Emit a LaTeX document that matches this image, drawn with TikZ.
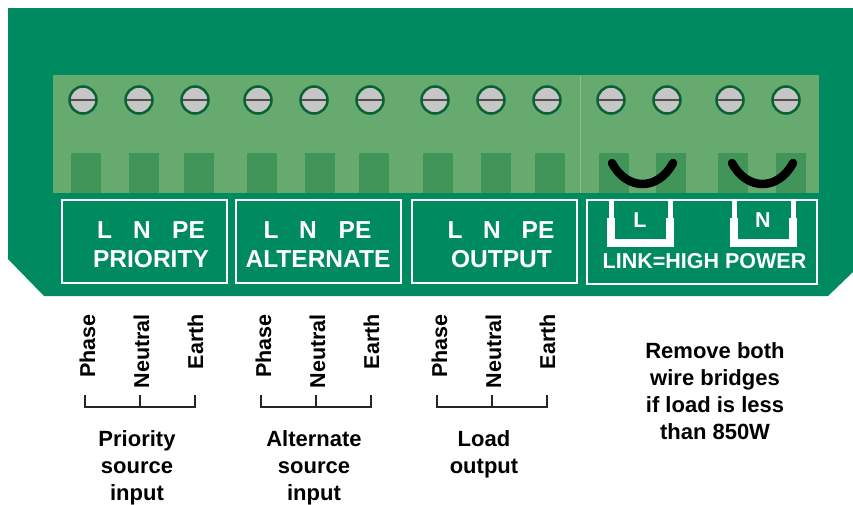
\documentclass[tikz,border=0pt]{standalone}
\usepackage{fontspec}
\setmainfont{Liberation Sans}
\usetikzlibrary{positioning,calc}
\definecolor{board}{RGB}{0,138,96}
\definecolor{strip}{RGB}{102,170,112}
\definecolor{entry}{RGB}{66,149,88}
\definecolor{screwfill}{RGB}{198,198,198}
\definecolor{screwrim}{RGB}{8,98,52}
\definecolor{slot}{RGB}{80,80,80}
\tikzset{
  screw/.style={draw=screwrim,fill=screwfill,line width=2.5pt},
  wirelink/.style={line width=8.5pt,line cap=round,black},
  labelbox/.style={draw=white,line width=2pt},
  lbl/.style={text=white,inner sep=0pt,anchor=base,font=\bfseries\fontsize{24.5}{29}\selectfont},
  smalllbl/.style={lbl,font=\bfseries\fontsize{21.5}{26}\selectfont},
  tag/.style={inner sep=0pt,rotate=90,anchor=base east,font=\bfseries\fontsize{21.5}{25}\selectfont},
  caption/.style={inner sep=0pt,anchor=base,align=center,font=\bfseries\fontsize{22}{27}\selectfont},
  brk/.style={line width=2pt,black!85}
}
\begin{document}
\begin{tikzpicture}[x=1pt,y=-1pt]
\useasboundingbox (0,0) rectangle (853,504);
\fill[board] (8,8) -- (853,8) -- (853,272) -- (828,296) -- (44,296) -- (8,259) -- cycle;
\fill[strip] (53,75) rectangle (819,193);
\draw[strip!75!white,line width=1pt] (580,76) -- (580,193);
\foreach \x in {86,144,199,262,320,374,438,496,550,614,671,733,791}
  \fill[entry] (\x-15,153) rectangle (\x+15,193);
\foreach \x in {83,139,195,258,314,370,435,491,547,611,667,730,786}{
  \draw[screw] (\x,100) circle[radius=13.5pt];
  \draw[slot,line width=2pt] (\x-12,100) -- (\x+12,100);
}
\draw[wirelink] (612,163) .. controls (627,191) and (658,191) .. (673,163);
\draw[wirelink] (732,163) .. controls (747,191) and (778,191) .. (793,163);

\draw[labelbox] (62,200) rectangle (227,283);
\draw[labelbox] (236,200) rectangle (401,283);
\draw[labelbox] (412,200) rectangle (577,283);
\draw[labelbox] (587,200) rectangle (817,284);
\foreach \u in {607,730}{
  \fill[white] (\u,218) rectangle (\u+8,247);
  \fill[white] (\u+59,218) rectangle (\u+67,247);
  \fill[white] (\u,239) rectangle (\u+67,247);
  \fill[white] (\u+1.5,200) rectangle (\u+7,218);
  \fill[white] (\u+60.5,200) rectangle (\u+66,218);
}

\node[lbl] (prioL) at (104.5,238) {L};
\node[lbl] (prioN) at (142,238) {N};
\node[lbl] (prioPE) at (188.5,238) {PE};
\node[lbl] (prio) at (151,267) {PRIORITY};
\node[lbl] (altL) at (271,238) {L};
\node[lbl] (altN) at (308,238) {N};
\node[lbl] (altPE) at (355,238) {PE};
\node[lbl] (alt) at (318,267) {ALTERNATE};
\node[lbl] (outL) at (455,238) {L};
\node[lbl] (outN) at (492,238) {N};
\node[lbl] (outPE) at (538,238) {PE};
\node[lbl] (out) at (501.5,267) {OUTPUT};
\node[smalllbl] (linkL) at (640,227) {L};
\node[smalllbl] (linkN) at (763,227) {N};
\node[smalllbl] (link) at (704.5,268) {LINK=HIGH POWER};

\foreach \g/\n in {85/1,261/2,437/3}{
  \node[tag] (phase\n) at (\g+10,314) {Phase};
  \node[tag] (neutral\n) at (\g+64,314) {Neutral};
  \node[tag] (earth\n) at (\g+118,314) {Earth};
  \draw[brk] (\g,395) -- (\g,407) -- (\g+110,407) -- (\g+110,395);
  \draw[brk] (\g+55,395) -- (\g+55,407);
}

\node[caption] (priocap) at (137,500) {Priority\\source\\input};
\node[caption] (altcap) at (314,500) {Alternate\\source\\input};
\node[caption] (loadcap) at (484,473) {Load\\output};
\node[caption] (note) at (715,439) {Remove both\\wire bridges\\if load is less\\than 850W};
\end{tikzpicture}
\end{document}
